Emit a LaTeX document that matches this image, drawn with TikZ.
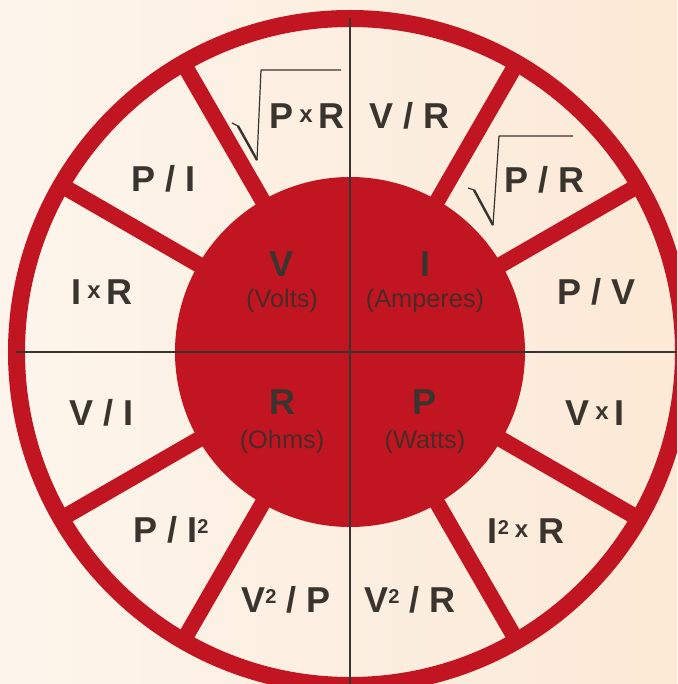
\documentclass[tikz,border=0pt]{standalone}
\usepackage{fontspec}
\setmainfont{Liberation Sans}
\definecolor{wheelred}{RGB}{193,22,34}
\definecolor{ink}{RGB}{58,52,46}
\definecolor{unitink}{RGB}{74,42,38}
\definecolor{paperL}{RGB}{253,245,236}
\definecolor{paperR}{RGB}{252,233,214}
\newcommand{\sqd}{\raisebox{6.5pt}{\fontsize{15}{15}\selectfont 2}}
\newcommand{\tms}{\raisebox{4.5pt}{\fontsize{18}{18}\selectfont x}}
\tikzset{
	formula/.style={anchor=base,text=ink,inner sep=0pt,font=\fontsize{27}{30}\selectfont\bfseries},
	unit/.style={anchor=base,text=unitink,inner sep=0pt,font=\fontsize{19}{22}\selectfont},
	radical/.style={ink,line width=0.9pt,line join=round}
}
\begin{document}
\begin{tikzpicture}[x=0.75pt,y=0.75pt]
	\useasboundingbox (-350,-332) rectangle (327,352);
	\clip (-350,-332) rectangle (327,352);
	\shade[left color=paperL,right color=paperR] (-350,-332) rectangle (327,352);
	% wheel
	\draw[wheelred,line width=12.75pt] (0,0) circle (333.5);
	\foreach \a in {30,60,120,150,210,240,300,330}
	\draw[wheelred,line width=12pt] (\a:170) -- (\a:330);
	\fill[wheelred] (0,0) circle (175);
	\draw[ink,line width=1.3pt] (-334,0) -- (334,0);
	\draw[ink,line width=1.3pt] (0,-334) -- (0,334);
	% quantities
	\node[formula] (volt) at (-68,75) {V};
	\node[unit] (voltu) at (-68,44) {(Volts)};
	\node[formula] (amp) at (75,75) {I};
	\node[unit] (ampu) at (75,44) {(Amperes)};
	\node[formula] (ohm) at (-68,-63) {R};
	\node[unit] (ohmu) at (-68,-96) {(Ohms)};
	\node[formula] (watt) at (75,-63) {P};
	\node[unit] (wattu) at (75,-96) {(Watts)};
	% formulas
	\node[formula] (vr) at (60,223) {V / R};
	\node[formula] (pxr) at (-43,223) {P\,\tms\,R};
	\node[formula] (pi) at (-186,160) {P / I};
	\node[formula] (pr) at (195,159) {P / R};
	\node[formula] (ixr) at (-248,47) {I\,\tms\,R};
	\node[formula] (pv) at (247,47) {P / V};
	\node[formula] (vi) at (-248,-74) {V / I};
	\node[formula] (vxi) at (245,-74) {V\,\tms\,I};
	\node[formula] (pii) at (-179,-190) {P / I\sqd};
	\node[formula] (iir) at (176,-191) {I\sqd\,\tms\ R};
	\node[formula] (vvp) at (-64,-260) {V\sqd\ / P};
	\node[formula] (vvr) at (60,-260) {V\sqd\ / R};
	% root signs
	\draw[radical] (-118,229) -- (-112,226) -- (-93,192) -- (-89,282) -- (-9,282);
	\draw[ink,line width=1.8pt] (-112,226) -- (-93,192);
	\draw[radical] (118,164) -- (124,162) -- (143,127) -- (149,216) -- (223,216);
	\draw[ink,line width=1.8pt] (124,162) -- (143,127);
\end{tikzpicture}
\end{document}
